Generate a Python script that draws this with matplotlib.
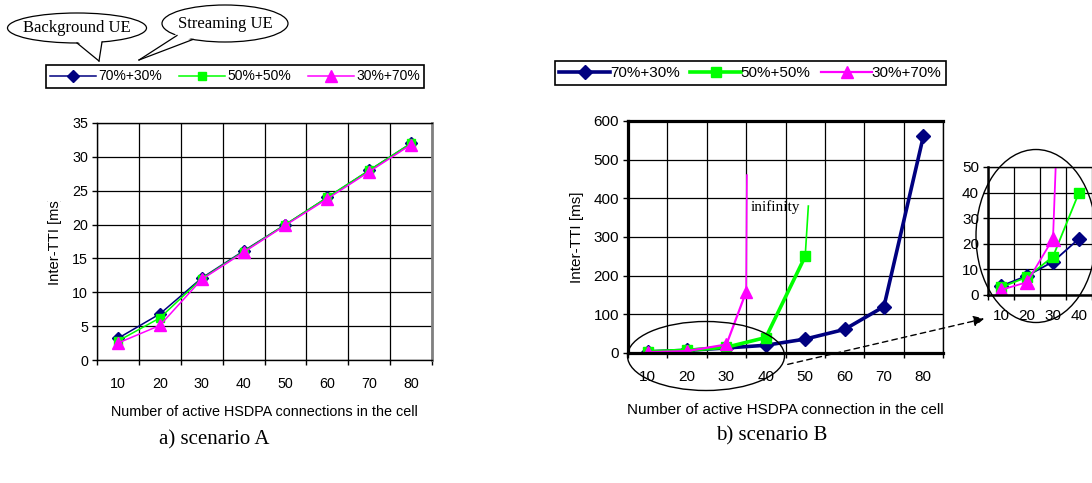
import matplotlib.pyplot as plt
from matplotlib.patches import Ellipse, Polygon, FancyArrowPatch
from matplotlib.lines import Line2D
from matplotlib.transforms import Bbox
import numpy as np

plt.rcParams['font.family'] = ['Liberation Sans', 'DejaVu Sans']

W, H = 1092, 483

# number of active HSDPA connections
conn = [10, 20, 30, 40, 50, 60, 70, 80]
labels = ['70%+30%', '50%+50%', '30%+70%']
colors = ['#000080', '#00FF00', '#FF00FF']
markers = ['D', 's', '^']

# scenario A, inter-TTI [ms]
a_70_30 = [3.2, 6.8, 12.1, 16.1, 20.0, 24.0, 28.0, 32.0]
a_50_50 = [2.8, 6.2, 12.0, 16.0, 20.0, 24.0, 28.0, 32.0]
a_30_70 = [2.5, 5.1, 11.9, 15.9, 19.9, 23.8, 27.8, 31.8]

# scenario B, inter-TTI [ms]
b_70_30 = [3, 7, 13, 20, 36, 61, 120, 560]
b_50_50_x = [10, 20, 30, 40, 50]
b_50_50 = [3, 7, 15, 40, 250]
b_30_70_x = [10, 20, 30, 35]
b_30_70 = [2, 5, 22, 158]
# thin lines going to "infinity"
inf_50_50_x = [50, 50.8]
inf_50_50 = [250, 380]
inf_30_70_x = [35, 35.2]
inf_30_70 = [158, 460]

# zoomed part of scenario B (first points)
z_70_30 = [3.5, 7.5, 13, 22]
z_50_50 = [3, 7, 15, 40]


def fx(px):
    return px / W


def fy(py):
    return 1 - py / H


def grid_axes(ax, xmax, ymax, ystep, fs, pad_x):
    ax.set_xlim(5, xmax)
    ax.set_ylim(0, ymax)
    ax.set_xticks([c for c in conn if c < xmax])
    ax.set_xticks(np.arange(5, xmax + 1, 10), minor=True)
    ax.set_yticks(np.arange(0, ymax + 1, ystep))
    ax.tick_params(axis='x', which='major', length=0, pad=pad_x, labelsize=fs)
    ax.tick_params(axis='x', which='minor', length=3.5, width=1, direction='out')
    ax.tick_params(axis='y', length=3.5, width=1, pad=3, labelsize=fs)
    ax.grid(True, which='minor', axis='x', color='black', lw=0.9)
    ax.grid(True, which='major', axis='y', color='black', lw=0.9)
    ax.grid(False, which='major', axis='x')
    ax.set_axisbelow(True)


fig = plt.figure(figsize=(10.92, 4.83), dpi=100)

# ---------------- scenario A ----------------
axA = fig.add_axes([fx(97), fy(360), fx(335), 237 / H])
grid_axes(axA, 85, 35, 5, 10.3, 12)
for y, c, m, lab in zip([a_70_30, a_50_50, a_30_70], colors, markers, labels):
    ms = {'D': 6, 's': 6, '^': 8}[m]
    axA.plot(conn, y, color=c, marker=m, ms=ms, lw=1.1, label=lab)
for s in ['left', 'bottom', 'top']:
    axA.spines[s].set_color('black')
    axA.spines[s].set_linewidth(1)
axA.spines['right'].set_color('#808080')
axA.spines['right'].set_linewidth(2)
axA.set_xlabel('Number of active HSDPA connections in the cell', fontsize=10.4)
axA.xaxis.set_label_coords(0.4985, -0.19)
ylA = axA.set_ylabel('Inter-TTI [ms]', fontsize=10.6)
axA.yaxis.set_label_coords(-0.105, 0.505)
# the label is cut off at the top in the original figure
ylA.set_clip_box(Bbox.from_extents(0, 0, W, H - 201))
ylA.set_clip_on(True)

legA = fig.legend(*axA.get_legend_handles_labels(), loc='center', ncol=3,
                  bbox_to_anchor=(fx(235), fy(76.5)), fontsize=10, frameon=True,
                  fancybox=False, edgecolor='black', framealpha=1,
                  handlelength=3.3, handletextpad=0.2, columnspacing=1.2,
                  borderpad=0.3, borderaxespad=0)
legA.get_frame().set_linewidth(1.2)

# speech balloons
def balloon(cx, cy, w, h, bx1, bx2, tip, text):
    e = Ellipse((fx(cx), fy(cy)), w / W, h / H, transform=fig.transFigure,
                facecolor='white', edgecolor='black', lw=0.9, zorder=5)
    fig.add_artist(e)
    pts = []
    for bx in (bx1, bx2):
        dy = (h / 2) * np.sqrt(max(0.0, 1 - ((bx - cx) / (w / 2)) ** 2))
        pts.append((bx, cy + dy))
    cover = Polygon([(fx(pts[0][0]), fy(pts[0][1] - 2)), (fx(pts[1][0]), fy(pts[1][1] - 2)),
                     (fx(tip[0]), fy(tip[1]))], closed=True, transform=fig.transFigure,
                    facecolor='white', edgecolor='none', zorder=6)
    fig.add_artist(cover)
    for p in pts:
        fig.add_artist(Line2D([fx(p[0]), fx(tip[0])], [fy(p[1]), fy(tip[1])],
                              transform=fig.transFigure, color='black', lw=0.9, zorder=7))
    fig.text(fx(cx), fy(cy), text, ha='center', va='center', fontsize=12,
             family='Liberation Serif', zorder=8)


balloon(77, 28, 139, 30, 77, 102, (99, 61), 'Background UE')
balloon(225, 23.5, 126, 37, 177, 193, (139, 60), 'Streaming UE')

# ---------------- scenario B ----------------
axB = fig.add_axes([fx(628), fy(353), fx(315), 232 / H])
grid_axes(axB, 85, 600, 100, 11, 12)
axB.plot(conn, b_70_30, color=colors[0], marker='D', ms=7, lw=2.6, label=labels[0])
axB.plot(b_50_50_x, b_50_50, color=colors[1], marker='s', ms=6.5, lw=2.6, label=labels[1])
axB.plot(b_30_70_x, b_30_70, color=colors[2], marker='^', ms=9, lw=1.6, label=labels[2])
axB.plot(inf_50_50_x, inf_50_50, color=colors[1], lw=1.2)
axB.plot(inf_30_70_x, inf_30_70, color=colors[2], lw=1.2)
axB.text(36.2, 377, 'inifinity', fontsize=11, family='Liberation Serif', va='center')
for s in ['left', 'bottom', 'top']:
    axB.spines[s].set_linewidth(2.3)
axB.spines['right'].set_linewidth(1)
axB.set_xlabel('Number of active HSDPA connection in the cell', fontsize=11)
axB.xaxis.set_label_coords(0.5, -0.215)
axB.set_ylabel('Inter-TTI [ms]', fontsize=11)
axB.yaxis.set_label_coords(-0.14, 0.5)

legB = fig.legend(*axB.get_legend_handles_labels(), loc='center', ncol=3,
                  bbox_to_anchor=(fx(750.5), fy(73)), fontsize=11, frameon=True,
                  fancybox=False, edgecolor='black', framealpha=1,
                  handlelength=3.3, handletextpad=0.0, columnspacing=0.7,
                  borderpad=0.3, borderaxespad=0)
legB.get_frame().set_linewidth(1.2)

# inset with the first points of scenario B
axZ = fig.add_axes([fx(988), fy(295), fx(104), 128 / H])
grid_axes(axZ, 45, 50, 10, 11, 10)
axZ.plot(conn[:4], z_70_30, color=colors[0], marker='D', ms=7, lw=1.3)
axZ.plot(conn[:4], z_50_50, color=colors[1], marker='s', ms=7, lw=1.3)
axZ.plot(b_30_70_x, b_30_70, color=colors[2], marker='^', ms=10, lw=1.3)
for s in ['left', 'bottom']:
    axZ.spines[s].set_linewidth(1.8)
axZ.spines['top'].set_linewidth(1)
axZ.spines['right'].set_visible(False)

# ellipses and dashed arrow
fig.add_artist(Ellipse((fx(706), fy(356)), 157 / W, 69 / H, transform=fig.transFigure,
                       facecolor='none', edgecolor='black', lw=1, zorder=10))
fig.add_artist(Ellipse((fx(1036), fy(236)), 120 / W, 173 / H, transform=fig.transFigure,
                       facecolor='none', edgecolor='black', lw=1, zorder=10))
fig.add_artist(FancyArrowPatch((fx(785), fy(365)), (fx(987), fy(318)),
                               transform=fig.transFigure, arrowstyle='-|>',
                               mutation_scale=16, linestyle=(0, (4, 3)), lw=1,
                               color='black', zorder=10))

# captions
fig.text(fx(214), fy(440), 'a) scenario A', ha='center', va='center', fontsize=15,
         family='Liberation Serif')
fig.text(fx(772), fy(436), 'b) scenario B', ha='center', va='center', fontsize=15,
         family='Liberation Serif')

fig.savefig('out.png', dpi=100)
